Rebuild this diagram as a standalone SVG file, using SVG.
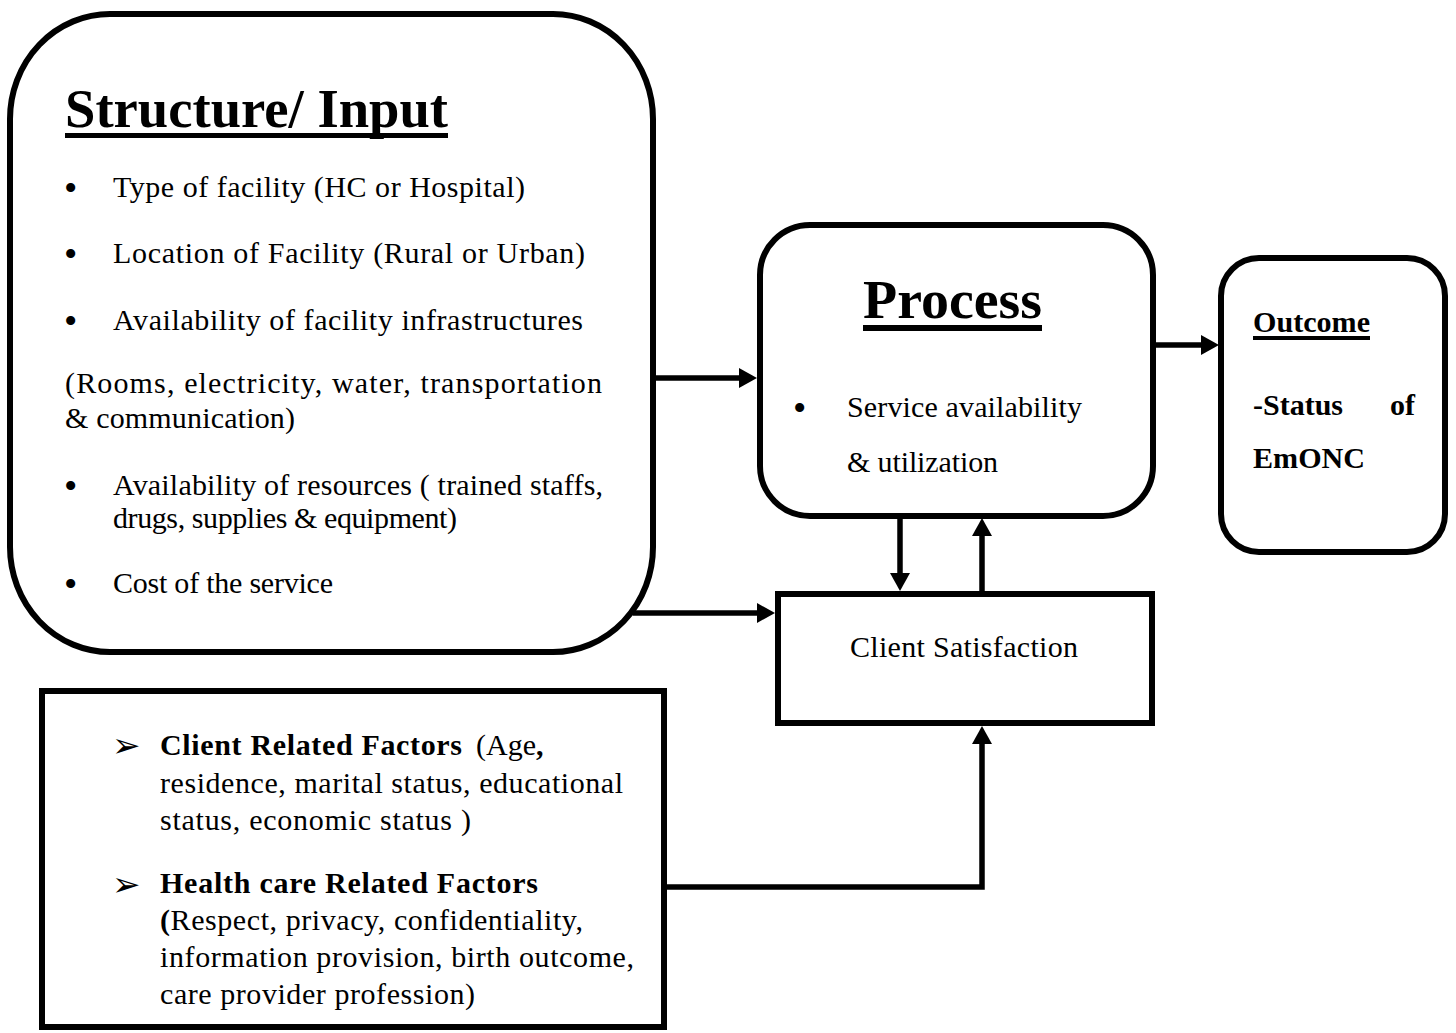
<svg xmlns="http://www.w3.org/2000/svg" width="1456" height="1033" viewBox="0 0 1456 1033">
<style>
.box{fill:#fff;stroke:#000;stroke-width:6}
.ln{fill:none;stroke:#000;stroke-width:5.5}
</style>
<defs>
<marker id="ah" markerUnits="userSpaceOnUse" markerWidth="18" markerHeight="20" refX="4" refY="10" orient="auto">
<path d="M0,0 L18,10 L0,20 Z" fill="#000"/>
</marker>
</defs>
<rect width="1456" height="1033" fill="#fff"/>

<g id="connectors">
<path class="ln" d="M653,378 H743" marker-end="url(#ah)"/>
<path class="ln" d="M633,613 H761" marker-end="url(#ah)"/>
<path class="ln" d="M900,516 V577" marker-end="url(#ah)"/>
<path class="ln" d="M982,594 V532" marker-end="url(#ah)"/>
<path class="ln" d="M1153,345 H1205" marker-end="url(#ah)"/>
<path class="ln" d="M663,887 H982 V740" marker-end="url(#ah)"/>
</g>

<g id="structure">
<rect class="box" x="10" y="14" width="643" height="638" rx="100" ry="105"/>
<text font-family="Liberation Serif" font-size="54" font-weight="bold" x="65" y="127" textLength="383" lengthAdjust="spacingAndGlyphs">Structure/ Input</text>
<rect x="65" y="133" width="383" height="5" fill="#000"/>
<text font-family="Liberation Serif" font-size="38" x="64" y="200.5">•</text>
<text font-family="Liberation Serif" font-size="30" x="113" y="197" textLength="412" lengthAdjust="spacing">Type of facility  (HC or Hospital)</text>
<text font-family="Liberation Serif" font-size="38" x="64" y="266.5">•</text>
<text font-family="Liberation Serif" font-size="30" x="113" y="263" textLength="472" lengthAdjust="spacing">Location of Facility  (Rural or Urban)</text>
<text font-family="Liberation Serif" font-size="38" x="64" y="333.5">•</text>
<text font-family="Liberation Serif" font-size="30" x="113" y="330" textLength="470" lengthAdjust="spacing">Availability of facility infrastructures</text>
<text font-family="Liberation Serif" font-size="30" x="65" y="393" textLength="537" lengthAdjust="spacing">(Rooms, electricity, water, transportation</text>
<text font-family="Liberation Serif" font-size="30" x="65" y="428" textLength="230" lengthAdjust="spacing">&amp; communication)</text>
<text font-family="Liberation Serif" font-size="38" x="64" y="498.5">•</text>
<text font-family="Liberation Serif" font-size="30" x="113" y="495" textLength="490" lengthAdjust="spacing">Availability of resources ( trained staffs,</text>
<text font-family="Liberation Serif" font-size="30" x="113" y="528" textLength="344" lengthAdjust="spacing">drugs, supplies &amp; equipment)</text>
<text font-family="Liberation Serif" font-size="38" x="64" y="596.5">•</text>
<text font-family="Liberation Serif" font-size="30" x="113" y="593" textLength="220" lengthAdjust="spacing">Cost of the service</text>
</g>

<g id="process">
<rect class="box" x="760" y="225" width="393" height="291" rx="50"/>
<text font-family="Liberation Serif" font-size="54" font-weight="bold" x="863" y="318" textLength="179" lengthAdjust="spacingAndGlyphs">Process</text>
<rect x="863" y="325" width="179" height="6" fill="#000"/>
<text font-family="Liberation Serif" font-size="38" x="793" y="420.5">•</text>
<text font-family="Liberation Serif" font-size="30" x="847" y="417" textLength="235" lengthAdjust="spacing">Service availability</text>
<text font-family="Liberation Serif" font-size="30" x="847" y="472" textLength="151" lengthAdjust="spacing">&amp; utilization</text>
</g>

<g id="outcome">
<rect class="box" x="1221" y="258" width="224" height="294" rx="38"/>
<text font-family="Liberation Serif" font-size="30" font-weight="bold" x="1253" y="332" textLength="117" lengthAdjust="spacingAndGlyphs">Outcome</text>
<rect x="1253" y="336" width="117" height="4" fill="#000"/>
<text font-family="Liberation Serif" font-size="30" font-weight="bold" x="1253" y="415">-Status</text>
<text font-family="Liberation Serif" font-size="30" font-weight="bold" x="1415" y="415" text-anchor="end">of</text>
<text font-family="Liberation Serif" font-size="30" font-weight="bold" x="1253" y="468" textLength="112" lengthAdjust="spacingAndGlyphs">EmONC</text>
</g>

<g id="client-satisfaction">
<rect class="box" x="778" y="594" width="374" height="129"/>
<text font-family="Liberation Serif" font-size="30" x="850" y="657" textLength="228" lengthAdjust="spacing">Client  Satisfaction</text>
</g>

<g id="factors">
<rect class="box" x="42" y="691" width="622" height="336"/>
<text font-family="DejaVu Sans" font-size="34" x="112" y="757">➢</text>
<text font-family="Liberation Serif" font-size="30" font-weight="bold" x="160" y="755" textLength="302" lengthAdjust="spacing">Client Related Factors</text>
<text font-family="Liberation Serif" font-size="30" x="476" y="755">(Age<tspan font-weight="bold">,</tspan></text>
<text font-family="Liberation Serif" font-size="30" x="160" y="793" textLength="463" lengthAdjust="spacing">residence, marital status, educational</text>
<text font-family="Liberation Serif" font-size="30" x="160" y="830" textLength="311" lengthAdjust="spacing">status, economic  status )</text>
<text font-family="DejaVu Sans" font-size="34" x="112" y="896">➢</text>
<text font-family="Liberation Serif" font-size="30" font-weight="bold" x="160" y="893" textLength="378" lengthAdjust="spacing">Health care Related Factors</text>
<text font-family="Liberation Serif" font-size="30" x="160" y="930" textLength="423" lengthAdjust="spacing"><tspan font-weight="bold">(</tspan>Respect, privacy, confidentiality,</text>
<text font-family="Liberation Serif" font-size="30" x="160" y="967" textLength="474" lengthAdjust="spacing">information provision, birth outcome,</text>
<text font-family="Liberation Serif" font-size="30" x="160" y="1004" textLength="315" lengthAdjust="spacing">care provider profession)</text>
</g>
</svg>
